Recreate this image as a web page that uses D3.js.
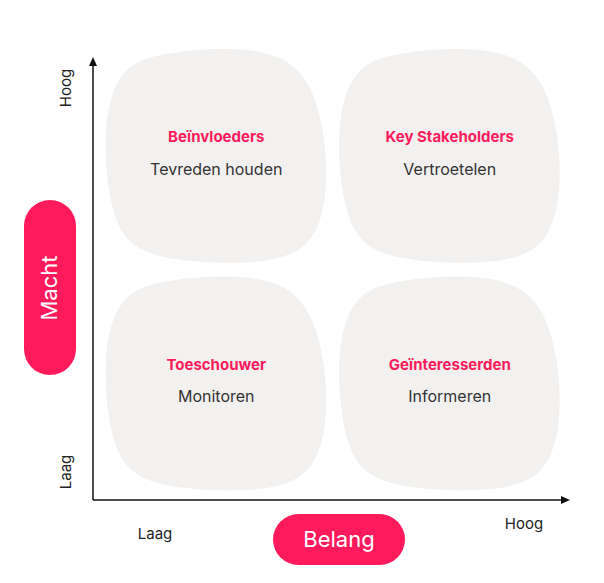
<!DOCTYPE html>
<html lang="en">
<head>
<meta charset="UTF-8" />
<script src="https://cdnjs.cloudflare.com/ajax/libs/d3/7.8.2/d3.min.js"></script>
<style>
  body { margin: 0; background: #fff; font-family: Inter, "Open Sans", sans-serif; }
</style>
</head>
<body>
<svg id="chart" width="604" height="583"></svg>
<script>
// data
const levels = ["Laag", "Hoog"];
const titles = ["Toeschouwer", "Geïnteresserden", "Beïnvloeders", "Key Stakeholders"];
const subtitles = ["Monitoren", "Informeren", "Tevreden houden", "Vertroetelen"];
const belangIdx = [0, 1, 0, 1];
const machtIdx = [0, 0, 1, 1];

const pink = "#ff1a5c";
const svg = d3.select("#chart");

const x = d3.scaleBand().domain(levels).range([103, 563]).paddingInner(0.03);
const y = d3.scaleBand().domain(levels).range([492, 46]).paddingInner(0.04);

// soft blob shape in unit coords
const blobPts = [[0.25,0.03],[0.6,0],[0.86,0.06],[0.97,0.3],[1,0.66],[0.93,0.93],
                 [0.7,1],[0.35,0.99],[0.1,0.93],[0.02,0.7],[0,0.35],[0.07,0.1]];
const blob = d3.line().curve(d3.curveBasisClosed);

titles.forEach((t, i) => {
  const x0 = x(levels[belangIdx[i]]), y0 = y(levels[machtIdx[i]]);
  const w = x.bandwidth(), h = y.bandwidth();
  svg.append("path")
    .attr("d", blob(blobPts.map(p => [x0 + p[0] * w, y0 + p[1] * h])))
    .attr("fill", "#f2f1f0");
  svg.append("text").attr("x", x0 + w / 2).attr("y", y0 + h * 0.44)
    .attr("text-anchor", "middle").attr("font-size", 15).attr("font-weight", 700)
    .attr("fill", pink).text(t);
  svg.append("text").attr("x", x0 + w / 2).attr("y", y0 + h * 0.59)
    .attr("text-anchor", "middle").attr("font-size", 16).attr("fill", "#333").text(subtitles[i]);
});

// axes
svg.append("line").attr("x1", 93).attr("y1", 500).attr("x2", 93).attr("y2", 64)
  .attr("stroke", "#111").attr("stroke-width", 1.5);
svg.append("path").attr("d", "M93,57 L89,66 L97,66 Z").attr("fill", "#111");
svg.append("line").attr("x1", 93).attr("y1", 500).attr("x2", 562).attr("y2", 500)
  .attr("stroke", "#111").attr("stroke-width", 1.5);
svg.append("path").attr("d", "M570,500 L561,496 L561,504 Z").attr("fill", "#111");

// tick labels
const txt = { "font-size": 15, fill: "#222" };
svg.append("text").attr("x", 155).attr("y", 539).attr("text-anchor", "middle")
  .attr("font-size", 15).attr("fill", "#222").text(levels[0]);
svg.append("text").attr("x", 524).attr("y", 529).attr("text-anchor", "middle")
  .attr("font-size", 15).attr("fill", "#222").text(levels[1]);
svg.append("text").attr("transform", "translate(71,472) rotate(-90)").attr("text-anchor", "middle")
  .attr("font-size", 15).attr("fill", "#222").text(levels[0]);
svg.append("text").attr("transform", "translate(71,88) rotate(-90)").attr("text-anchor", "middle")
  .attr("font-size", 15).attr("fill", "#222").text(levels[1]);

// pills
svg.append("rect").attr("x", 24).attr("y", 200).attr("width", 52).attr("height", 175)
  .attr("rx", 26).attr("fill", pink);
svg.append("text").attr("transform", "translate(57,288) rotate(-90)").attr("text-anchor", "middle")
  .attr("font-size", 22).attr("fill", "#fff").text("Macht");
svg.append("rect").attr("x", 273).attr("y", 514).attr("width", 132).attr("height", 51)
  .attr("rx", 25.5).attr("fill", pink);
svg.append("text").attr("x", 339).attr("y", 547).attr("text-anchor", "middle")
  .attr("font-size", 22).attr("fill", "#fff").text("Belang");
</script>
</body>
</html>
